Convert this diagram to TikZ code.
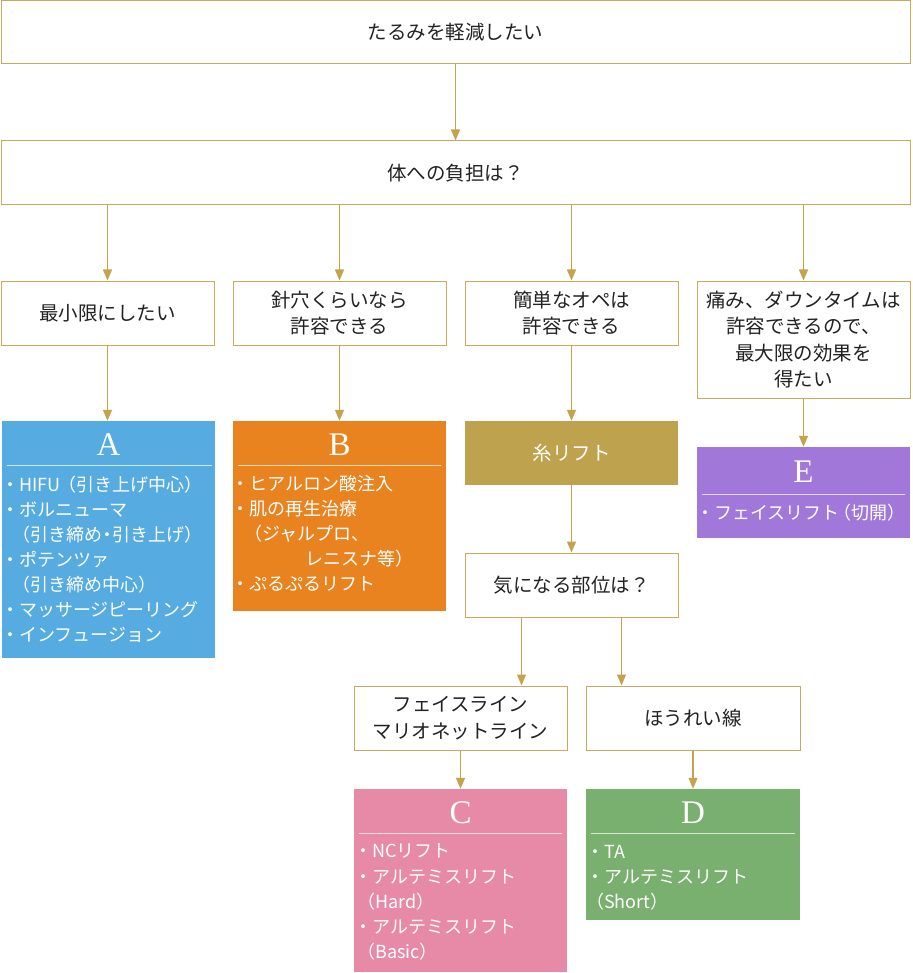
\documentclass[tikz,border=0pt]{standalone}
\usepackage{fontspec}
\setmainfont{Noto Sans CJK JP}
\newfontfamily\ltrfont{Liberation Serif}
\usetikzlibrary{arrows.meta}
\definecolor{gold}{HTML}{C9A95C}
\definecolor{arrowgold}{HTML}{C6A24C}
\definecolor{txtgray}{HTML}{222222}
\definecolor{cA}{HTML}{56ACE0}
\definecolor{cB}{HTML}{E9831F}
\definecolor{cIto}{HTML}{BFA24D}
\definecolor{cC}{HTML}{E78AA8}
\definecolor{cD}{HTML}{79AF6F}
\definecolor{cE}{HTML}{A177DA}
\begin{document}
\begin{tikzpicture}[x=1pt,y=-1pt,
  qbox/.style={draw=gold, line width=1pt, fill=white, text=txtgray, align=center, inner sep=0pt, font=\fontsize{19.5}{26.5}\selectfont},
  cbox/.style={fill=#1, inner sep=0pt},
  ttl/.style={text=white, font=\ltrfont\fontsize{33}{33}\selectfont, inner sep=0pt},
  itm/.style={text=white, anchor=west, inner sep=0pt, font=\fontsize{18}{25}\selectfont},
  sepline/.style={draw=white, draw opacity=0.7, line width=1pt},
  arr/.style={draw=arrowgold, line width=1.2pt, -{Triangle[width=9pt,length=11pt]}}]
\useasboundingbox (0,0) rectangle (912,973);
% question boxes
\node[qbox, minimum width=909pt, minimum height=63pt] (top) at (455.5,32.5) {たるみを軽減したい};
\node[qbox, minimum width=909pt, minimum height=64pt] (q2) at (455.5,173) {体への負担は？};
\node[qbox, minimum width=213pt, minimum height=64pt] (c1) at (107.5,313) {最小限にしたい};
\node[qbox, minimum width=213pt, minimum height=64pt] (c2) at (339.5,313) {針穴くらいなら\\許容できる};
\node[qbox, minimum width=213pt, minimum height=64pt] (c3) at (571.5,313) {簡単なオペは\\許容できる};
\node[qbox, minimum width=213pt, minimum height=117pt] (c4) at (803.5,339.5) {痛み、ダウンタイムは\\許容できるので、\\最大限の効果を\\得たい};
\node[cbox=cIto, minimum width=213pt, minimum height=64pt, text=white, font=\fontsize{19.5}{26}\selectfont] (ito) at (571.5,453) {糸リフト};
\node[qbox, minimum width=213pt, minimum height=64pt] (kini) at (571.5,585) {気になる部位は？};
\node[qbox, minimum width=213pt, minimum height=64pt] (fl) at (460.5,718) {フェイスライン\\マリオネットライン};
\node[qbox, minimum width=214pt, minimum height=64pt] (hr) at (693,718) {ほうれい線};
% result boxes
\node[cbox=cA, minimum width=213pt, minimum height=237pt] (A) at (108.5,539.5) {};
\node[cbox=cB, minimum width=213pt, minimum height=190pt] (B) at (339.5,516) {};
\node[cbox=cE, minimum width=213pt, minimum height=91pt] (E) at (803.5,492.5) {};
\node[cbox=cC, minimum width=213pt, minimum height=183pt] (C) at (460.5,880.5) {};
\node[cbox=cD, minimum width=214pt, minimum height=131pt] (D) at (693,854.5) {};
% titles
\node[ttl] (tA) at (108.5,445) {A};
\node[ttl] (tB) at (339.5,445) {B};
\node[ttl] (tE) at (803.5,472) {E};
\node[ttl] (tC) at (460.5,813) {C};
\node[ttl] (tD) at (693,813) {D};
% separators
\draw[sepline] (7,465) -- (212,465);
\draw[sepline] (238,465) -- (441,465);
\draw[sepline] (702,494) -- (905,494);
\draw[sepline] (359,833) -- (562,833);
\draw[sepline] (591,833) -- (795,833);
% items A
\node[itm] (a1) at (1,485) {・HIFU\kern-2pt（引き上げ中心）};
\node[itm] (a2) at (1,510) {・ボルニューマ};
\node[itm] (a3) at (12,535) {（引き締め\kern-4pt・\kern-4pt引き上げ）};
\node[itm] (a4) at (1,560) {・ポテンツァ};
\node[itm] (a5) at (12,585) {（引き締め中心）};
\node[itm] (a6) at (1,610) {・マッサージピーリング};
\node[itm] (a7) at (1,635) {・インフュージョン};
% items B
\node[itm] (b1) at (231,484) {・ヒアルロン酸注入};
\node[itm] (b2) at (231,509) {・肌の再生治療};
\node[itm] (b3) at (244,534) {（ジャルプロ、};
\node[itm] (b4) at (305,559) {レニスナ等）};
\node[itm] (b5) at (231,584) {・ぷるぷるリフト};
% items E
\node[itm] (e1) at (696,513) {・フェイスリフト\kern-6pt（切開）};
% items C
\node[itm] (k1) at (354,851) {・NCリフト};
\node[itm] (k2) at (354,877) {・アルテミスリフト};
\node[itm] (k3) at (357,902) {（Hard）};
\node[itm] (k4) at (354,927) {・アルテミスリフト};
\node[itm] (k5) at (357,952) {（Basic）};
% items D
\node[itm] (d1) at (586,852) {・TA};
\node[itm] (d2) at (586,877) {・アルテミスリフト};
\node[itm] (d3) at (586,902) {（Short）};
% arrows
\draw[arr] (top.south) -- (top.south |- q2.north);
\draw[arr] (c1.north |- q2.south) -- (c1.north);
\draw[arr] (c2.north |- q2.south) -- (c2.north);
\draw[arr] (c3.north |- q2.south) -- (c3.north);
\draw[arr] (c4.north |- q2.south) -- (c4.north);
\draw[arr] (c1.south) -- (c1.south |- A.north);
\draw[arr] (c2.south) -- (c2.south |- B.north);
\draw[arr] (c3.south) -- (ito.north);
\draw[arr] (c4.south) -- (E.north);
\draw[arr] (ito.south) -- (kini.north);
\draw[arr] ([xshift=-50pt]kini.south) -- ([xshift=-50pt]kini.south |- fl.north);
\draw[arr] ([xshift=50pt]kini.south) -- ([xshift=50pt]kini.south |- hr.north);
\draw[arr] (fl.south) -- (C.north);
\draw[arr] (hr.south) -- (D.north);
\end{tikzpicture}
\end{document}
